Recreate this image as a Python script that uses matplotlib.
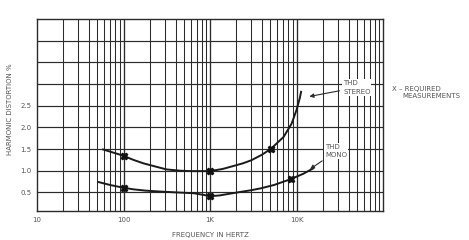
import matplotlib as mpl
import numpy as np

mpl.use("Agg")
import matplotlib.pyplot as plt  # noqa: E402
from matplotlib.ticker import FixedLocator, NullFormatter  # noqa: E402

INK, TXT = "#2b2b2b", "#555555"

# THD curves (frequency in Hz, distortion in %)
stereo_f = [58, 70, 98, 130, 170, 230, 313, 450, 600, 1000, 1400, 1880, 2400, 3000, 4000, 5100,
            7100, 8800, 10000, 10900, 11300]
stereo_y = [1.49, 1.44, 1.35, 1.25, 1.17, 1.10, 1.03, 1.00, 0.99, 0.99, 1.04, 1.11, 1.17, 1.24, 1.37, 1.51,
            1.78, 2.09, 2.40, 2.67, 2.82]
mono_f = [51, 70, 98, 130, 180, 260, 400, 650, 850, 1000, 1300, 1700, 2250, 3000, 3800, 5500, 8700,
          12000, 15500]
mono_y = [0.74, 0.67, 0.61, 0.57, 0.54, 0.52, 0.50, 0.48, 0.44, 0.41, 0.43, 0.47, 0.51, 0.55, 0.59, 0.67, 0.81,
          0.93, 1.05]

# "X" = required measurement points
stereo_mark_f = [100, 1000, 5100]
stereo_mark_y = [1.35, 0.99, 1.51]
mono_mark_f = [100, 1000, 8700]
mono_mark_y = [0.61, 0.41, 0.81]

ytick_vals = [0.5, 1.0, 1.5, 2.0, 2.5]
ytick_labels = ["0.5", "1.0", "1.5", "2.0", "2.5"]
xtick_vals = [10, 100, 1000, 10000]
xtick_labels = ["10", "100", "1K", "10K"]

fig = plt.figure(figsize=(4.69, 2.40), dpi=100)
ax = fig.add_axes([37 / 469, 1 - 211 / 240, 346 / 469, 192 / 240])
ax.set_xscale("log")
ax.set_xlim(10, 1e5)
ax.set_ylim(0.07, 4.5)

# log paper grid: every 1..9 per decade, horizontal every 0.5
minor = [m * 10 ** d for d in range(1, 5) for m in range(2, 10)]
for f in minor:
    ax.axvline(f, color=INK, lw=0.75, zorder=1)
for f in [100, 1000, 10000]:
    ax.axvline(f, color=INK, lw=0.95, zorder=1)
for y in np.arange(0.5, 4.01, 0.5):
    ax.axhline(y, color=INK, lw=0.85, zorder=1)
for s in ax.spines.values():
    s.set_color(INK); s.set_linewidth(1.0)

ax.plot(stereo_f, stereo_y, color="#1a1a1a", lw=1.4, zorder=3)
ax.plot(mono_f, mono_y, color="#1a1a1a", lw=1.4, zorder=3)
ax.plot(stereo_mark_f, stereo_mark_y, "X", ms=5, color="#111111", mec="#111111", zorder=4)
ax.plot(mono_mark_f, mono_mark_y, "X", ms=5, color="#111111", mec="#111111", zorder=4)

ax.xaxis.set_major_locator(FixedLocator(xtick_vals))
ax.xaxis.set_minor_formatter(NullFormatter())
ax.set_xticks(xtick_vals, xtick_labels)
ax.set_yticks(ytick_vals, ytick_labels)
ax.tick_params(axis="both", which="both", length=0, labelsize=5, labelcolor=TXT, pad=4)
ax.set_xlabel("FREQUENCY IN HERTZ", fontsize=5, color=TXT, labelpad=7)
ax.set_ylabel("HARMONIC DISTORTION %", fontsize=5, color=TXT, labelpad=8)
ax.yaxis.set_label_coords(-0.068, 0.53)

box = dict(facecolor="white", edgecolor="none", pad=0.6)
arrow = dict(arrowstyle="-|>", color=INK, lw=0.8, mutation_scale=6)
ax.annotate("THD\nSTEREO", xy=(13100, 2.70), xytext=(34500, 2.92), fontsize=5, color=TXT,
            ha="left", va="center", linespacing=1.5, bbox=box, arrowprops=arrow, zorder=5)
ax.annotate("THD\nMONO", xy=(13500, 1.0), xytext=(21500, 1.45), fontsize=5, color=TXT,
            ha="left", va="center", linespacing=1.5, bbox=box, arrowprops=arrow, zorder=5)

fig.text(392 / 469, 1 - 89 / 240, "X – REQUIRED", fontsize=5, color=TXT, va="center")
fig.text(402 / 469, 1 - 96 / 240, "MEASUREMENTS", fontsize=5, color=TXT, va="center")

fig.savefig("out.png", dpi=100)
